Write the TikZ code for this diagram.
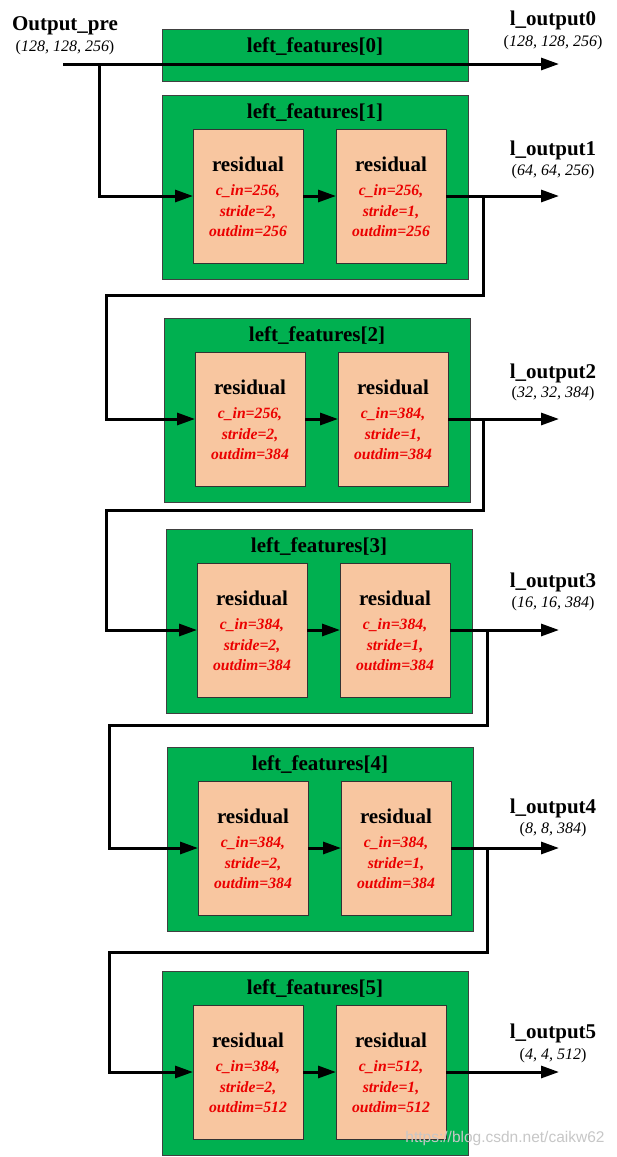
\documentclass[tikz,border=0pt]{standalone}
\usepackage{fontspec}
\setmainfont{Liberation Serif}
\setsansfont{Liberation Sans}
\usetikzlibrary{arrows.meta}
\definecolor{gfill}{RGB}{0,176,80}
\definecolor{rfill}{RGB}{248,198,160}
\definecolor{rtxt}{RGB}{235,0,0}
\tikzset{
  gbox/.style={draw=black!75, line width=0.8pt, fill=gfill, minimum width=306pt, minimum height=184pt, inner sep=0pt, outer sep=0pt, anchor=north west},
  rbox/.style={draw=black!80, line width=0.8pt, fill=rfill, minimum width=110pt, minimum height=134pt, inner sep=0pt, outer sep=0pt, anchor=north west},
  gtitle/.style={inner sep=0pt, font=\bfseries\fontsize{21}{24}\selectfont},
  rtitle/.style={inner sep=0pt, font=\bfseries\fontsize{21}{24}\selectfont},
  rtext/.style={inner sep=0pt, text=rtxt, font=\bfseries\itshape\fontsize{15.7}{18}\selectfont},
  otitle/.style={inner sep=0pt, font=\bfseries\fontsize{21}{24}\selectfont},
  odim/.style={inner sep=0pt, font=\itshape\fontsize{16}{18}\selectfont},
  conn/.style={line width=3pt, -{Triangle[length=18pt,width=12pt]}},
}
\newcommand{\fblock}[6]{%
  \node[gbox] (g#1) at (#2,#3) {};
  \node[gtitle] (t#1) at ([yshift=-18pt]g#1.north) {left\_features[#1]};
  \node[rbox] (a#1) at ([xshift=31pt,yshift=-34pt]g#1.north west) {};
  \node[rbox] (b#1) at ([xshift=174pt,yshift=-34pt]g#1.north west) {};
  \node[rtitle] (a#1r) at ([yshift=-35pt]a#1.north) {residual};
  \node[rtext] (a#1c) at ([yshift=-62pt]a#1.north) {c\_in=#4,};
  \node[rtext] (a#1s) at ([yshift=-83pt]a#1.north) {stride=2,};
  \node[rtext] (a#1o) at ([yshift=-102pt]a#1.north) {outdim=#5};
  \node[rtitle] (b#1r) at ([yshift=-35pt]b#1.north) {residual};
  \node[rtext] (b#1c) at ([yshift=-62pt]b#1.north) {c\_in=#6,};
  \node[rtext] (b#1s) at ([yshift=-83pt]b#1.north) {stride=1,};
  \node[rtext] (b#1o) at ([yshift=-102pt]b#1.north) {outdim=#5};
  \draw[conn] (a#1.east) -- (b#1.west);
  \draw[conn] (b#1.east) -- (b#1.east -| R);
}
\begin{document}
\begin{tikzpicture}[x=1pt,y=-1pt]
\useasboundingbox[fill=white] (0,0) rectangle (617,1157);
\coordinate (R) at (559,0);
% block 0
\node[gbox, minimum height=52pt] (g0) at (162,29) {};
\node[gtitle] (t0) at ([yshift=-18pt]g0.north) {left\_features[0]};
% input
\node[otitle] (opre) at (65,26) {Output\_pre};
\node[odim] (opred) at (65,48) {\textup{(}128, 128, 256\textup{)}};
\coordinate (s) at (63,64);
\coordinate (j0) at (99,64);
\draw[conn] (s) -- (s -| R);
% blocks
\fblock{1}{162}{95}{256}{256}{256}
\fblock{2}{164}{318}{256}{384}{384}
\fblock{3}{166}{529}{384}{384}{384}
\fblock{4}{167}{747}{384}{384}{384}
\fblock{5}{162}{971}{384}{512}{512}
% connectors between blocks
\draw[conn] (j0) |- (a1.west);
\coordinate (j1) at (483,295); \coordinate (k1) at (106,295);
\coordinate (j2) at (483,510); \coordinate (k2) at (106,510);
\coordinate (j3) at (487,725); \coordinate (k3) at (109,725);
\coordinate (j4) at (487,952); \coordinate (k4) at (109,952);
\draw[conn] (b1.east -| j1) -- (j1) -- (k1) |- (a2.west);
\draw[conn] (b2.east -| j2) -- (j2) -- (k2) |- (a3.west);
\draw[conn] (b3.east -| j3) -- (j3) -- (k3) |- (a4.west);
\draw[conn] (b4.east -| j4) -- (j4) -- (k4) |- (a5.west);
% output labels
\node[otitle] (l0) at (553,20) {l\_output0};
\node[odim] (l0d) at (553,43) {\textup{(}128, 128, 256\textup{)}};
\node[otitle] (l1) at (553,150) {l\_output1};
\node[odim] (l1d) at (553,172) {\textup{(}64, 64, 256\textup{)}};
\node[otitle] (l2) at (553,373) {l\_output2};
\node[odim] (l2d) at (553,394) {\textup{(}32, 32, 384\textup{)}};
\node[otitle] (l3) at (553,582) {l\_output3};
\node[odim] (l3d) at (553,604) {\textup{(}16, 16, 384\textup{)}};
\node[otitle] (l4) at (553,808) {l\_output4};
\node[odim] (l4d) at (553,830) {\textup{(}8, 8, 384\textup{)}};
\node[otitle] (l5) at (553,1033) {l\_output5};
\node[odim] (l5d) at (553,1056) {\textup{(}4, 4, 512\textup{)}};
% watermark
\node[inner sep=0pt, text=black!22, font=\sffamily\fontsize{15.5}{18}\selectfont] (wm) at (505,1138) {https://blog.csdn.net/caikw62};
\end{tikzpicture}
\end{document}
